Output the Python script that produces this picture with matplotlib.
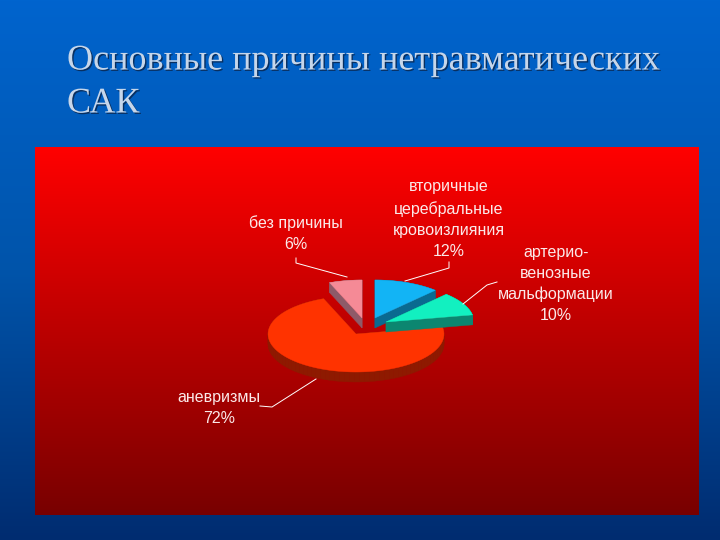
import numpy as np
import matplotlib
matplotlib.use("Agg")
import matplotlib.pyplot as plt
from matplotlib.patches import Polygon
import matplotlib.patheffects as pe

title_lines = ["Основные причины нетравматических", "САК"]
categories = ["вторичные\nцеребральные\nкровоизлияния", "артерио-\nвенозные\nмальформации", "аневризмы", "без причины"]
values = [12, 10, 72, 6]
colors_top = ["#12B4F5", "#12F0C0", "#FF3300", "#F58A96"]
colors_side = ["#0A6A90", "#0C8670", "#8E1A00", "#8E5A68"]
apexes = [(375, 318), (386, 322), (356, 334), (362, 318)]
label_pos = [(449, 219), (556, 284), (219, 408), (296, 234)]
leaders = [
    [(449, 262), (449, 268), (405, 281)],
    [(497, 282), (487, 285), (463, 304)],
    [(260, 406), (272, 407), (316, 379)],
    [(296, 258), (296, 263), (347, 277)],
]

RX, RY, DEPTH = 88, 38, 10

fig = plt.figure(figsize=(7.2, 5.4), dpi=100)
ax = fig.add_axes([0, 0, 1, 1])
ax.set_xlim(0, 720)
ax.set_ylim(540, 0)
ax.axis("off")

def vgrad(stops):
    ys, cs = zip(*stops)
    t = np.linspace(0, 1, 540)
    return np.stack([np.interp(t, ys, [c[i] for c in cs]) for i in range(3)], axis=1)[:, None, :] / 255

bg = vgrad([(0, (0, 100, 206)), (0.5, (0, 84, 170)), (1, (0, 44, 112))])
ax.imshow(bg, extent=[0, 720, 540, 0], aspect="auto", zorder=0)
panel = vgrad([(0, (255, 0, 0)), (1, (120, 0, 0))])
ax.imshow(panel, extent=[35, 699, 515, 147], aspect="auto", zorder=1)
ax.set_xlim(0, 720)
ax.set_ylim(540, 0)

title_fx = [pe.withSimplePatchShadow(offset=(1, -1), shadow_rgbFace="#0A2A55", alpha=0.9)]
for y, line in zip([61, 104], title_lines):
    ax.text(67, y, line, family="Liberation Serif", fontsize=26.0, color="#C6D6EA",
            va="center", ha="left", zorder=5, path_effects=title_fx)

def wedge(ap, a0, a1):
    th = np.radians(np.linspace(a0, a1, 80))
    return ap[0] + RX * np.sin(th), ap[1] - RY * np.cos(th)

cum = 0
shapes = []
for v, ap, top, side in zip(values, apexes, colors_top, colors_side):
    a0, a1 = cum * 3.6, (cum + v) * 3.6
    cum += v
    shapes.append((ap, a0, a1, top, side))

order = [3, 2, 0, 1]
for z, i in enumerate(order):
    ap, a0, a1, top, side = shapes[i]
    x, y = wedge(ap, a0, a1)
    top_pts = np.column_stack([np.r_[ap[0], x], np.r_[ap[1], y]])
    low = top_pts + [0, DEPTH]
    for k in range(len(top_pts)):
        j = (k + 1) % len(top_pts)
        ax.add_patch(Polygon([top_pts[k], top_pts[j], low[j], low[k]], closed=True,
                             fc=side, ec=side, lw=0.3, zorder=3 + z * 0.1))
    ax.add_patch(Polygon(top_pts, closed=True, fc=top, ec=top, lw=0.3, zorder=3.05 + z * 0.1))

for cat, v, (lx, ly), path in zip(categories, values, label_pos, leaders):
    ax.text(lx, ly, f"{cat}\n{v}%", family="Liberation Sans", fontsize=11.5, color="#FBE9E9",
            ha="center", va="center", linespacing=1.5, zorder=6)
    px, py = zip(*path)
    ax.plot(px, py, color="white", lw=0.7, zorder=6)

fig.savefig("out.png", dpi=100)
